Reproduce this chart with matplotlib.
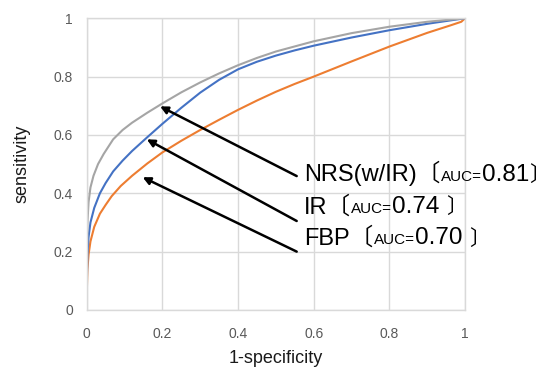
import matplotlib
matplotlib.use('Agg')
import matplotlib.pyplot as plt
from matplotlib.offsetbox import TextArea, HPacker, AnnotationBbox

# ROC curves
gray_x = [0, 0.0005, 0.002, 0.005, 0.01, 0.018, 0.03, 0.045, 0.07, 0.095, 0.12, 0.16, 0.2,
          0.25, 0.3, 0.35, 0.4, 0.45, 0.5, 0.6, 0.7, 0.8, 0.9, 1.0]
gray_y = [0, 0.2, 0.3, 0.37, 0.42, 0.46, 0.5, 0.535, 0.585, 0.617, 0.642, 0.676, 0.708,
          0.746, 0.78, 0.811, 0.839, 0.864, 0.886, 0.921, 0.949, 0.971, 0.988, 1.0]

blue_x = [0, 0.0005, 0.002, 0.005, 0.01, 0.02, 0.035, 0.05, 0.07, 0.095, 0.12, 0.16, 0.2,
          0.25, 0.3, 0.35, 0.4, 0.45, 0.5, 0.55, 0.6, 0.7, 0.8, 0.9, 1.0]
blue_y = [0, 0.1, 0.19, 0.25, 0.3, 0.35, 0.4, 0.435, 0.475, 0.512, 0.545, 0.592, 0.638,
          0.693, 0.745, 0.789, 0.825, 0.851, 0.872, 0.89, 0.906, 0.934, 0.959, 0.981, 1.0]

orange_x = [0, 0.0005, 0.002, 0.005, 0.01, 0.02, 0.035, 0.05, 0.066, 0.09, 0.12, 0.16, 0.2,
            0.25, 0.3, 0.35, 0.4, 0.45, 0.5, 0.55, 0.6, 0.7, 0.8, 0.9, 0.96, 0.99, 1.0]
orange_y = [0, 0.07, 0.14, 0.19, 0.235, 0.285, 0.33, 0.36, 0.39, 0.425, 0.46, 0.502, 0.54,
            0.58, 0.617, 0.652, 0.686, 0.718, 0.748, 0.775, 0.8, 0.852, 0.903, 0.95, 0.975, 0.988, 1.0]

ticks = [0, 0.2, 0.4, 0.6, 0.8, 1]
tick_labels = ['0', '0.2', '0.4', '0.6', '0.8', '1']

names = ['NRS(w/IR)', 'IR', 'FBP']
aucs = ['0.81', '0.74 ', '0.70 ']
arrow_tips = [(0.194, 0.698), (0.159, 0.585), (0.148, 0.455)]
arrow_tails = [(0.555, 0.459), (0.555, 0.305), (0.555, 0.200)]
label_pos = [(0.575, 0.468), (0.575, 0.353), (0.575, 0.246)]

fonts = ['Liberation Sans', 'Noto Sans CJK JP', 'DejaVu Sans']

fig = plt.figure(figsize=(5.5, 3.69), dpi=100)
ax = fig.add_axes([0.1576, 0.160, 0.688, 0.7905])

ax.plot(orange_x, orange_y, color='#ed7d31', lw=1.5)
ax.plot(blue_x, blue_y, color='#4472c4', lw=1.5)
ax.plot(gray_x, gray_y, color='#a5a5a5', lw=1.5)

ax.set_xlim(0, 1)
ax.set_ylim(0, 1)
ax.set_xticks(ticks)
ax.set_yticks(ticks)
ax.set_xticklabels(tick_labels, family=fonts, fontsize=10, color='#595959')
ax.set_yticklabels(tick_labels, family=fonts, fontsize=10, color='#595959')
ax.tick_params(length=0)
ax.tick_params(axis='x', pad=12)
ax.tick_params(axis='y', pad=10)
ax.grid(True, color='#d9d9d9', lw=1)
ax.set_axisbelow(True)
for s in ax.spines.values():
    s.set_color('#d9d9d9')
    s.set_linewidth(1)

ax.set_xlabel('1-specificity', family=fonts, fontsize=13, color='#1a1a1a', va='center')
ax.set_ylabel('sensitivity', family=fonts, fontsize=13, color='#1a1a1a', va='center')
ax.xaxis.set_label_coords(0.5, -0.165)
ax.yaxis.set_label_coords(-0.171, 0.5)

for tip, tail in zip(arrow_tips, arrow_tails):
    ax.annotate('', xy=tip, xytext=tail,
                arrowprops=dict(arrowstyle='-|>', color='black', lw=1.8,
                                mutation_scale=11, shrinkA=0, shrinkB=0))

for name, auc, pos in zip(names, aucs, label_pos):
    parts = [
        TextArea(name + '〔', textprops=dict(fontsize=17, family=fonts)),
        TextArea('AUC=', textprops=dict(fontsize=11, family=fonts)),
        TextArea(auc, textprops=dict(fontsize=17.5, family=fonts)),
        TextArea('〕', textprops=dict(fontsize=15, family=fonts)),
    ]
    box = HPacker(children=parts, align='baseline', pad=0, sep=0)
    ab = AnnotationBbox(box, pos, xycoords='data', box_alignment=(0, 0.5),
                        frameon=False, pad=0, annotation_clip=False)
    ax.add_artist(ab)

fig.savefig('out.png', dpi=100)
